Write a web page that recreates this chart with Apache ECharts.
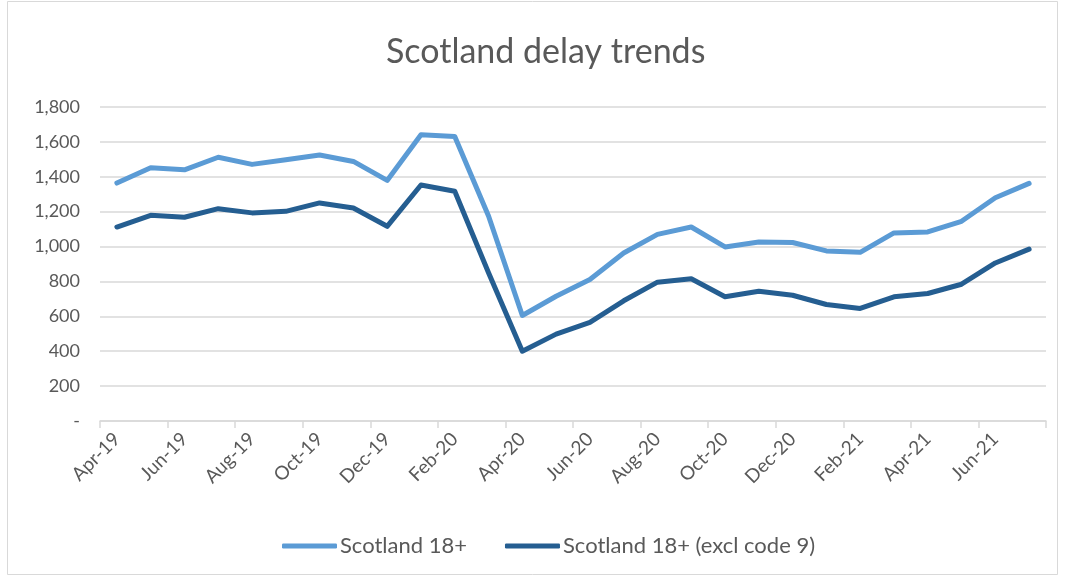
<!DOCTYPE html>
<html><head><meta charset="utf-8">
<script src="https://cdn.jsdelivr.net/npm/echarts@6/dist/echarts.min.js"></script>
<style>html,body{margin:0;padding:0;background:#fff}#c{width:1065px;height:576px}</style>
</head><body><div id="c"></div>
<script>
const categories = ["Apr-19","May-19","Jun-19","Jul-19","Aug-19","Sep-19","Oct-19","Nov-19","Dec-19","Jan-20","Feb-20","Mar-20","Apr-20","May-20","Jun-20","Jul-20","Aug-20","Sep-20","Oct-20","Nov-20","Dec-20","Jan-21","Feb-21","Mar-21","Apr-21","May-21","Jun-21","Jul-21"];
const scotland18 = [1364,1452,1440,1512,1471,1498,1525,1488,1379,1641,1631,1175,605,715,811,963,1070,1112,998,1026,1023,975,967,1078,1084,1145,1280,1362];
const scotland18excl9 = [1112,1179,1168,1217,1193,1202,1250,1221,1116,1353,1317,850,400,498,565,689,796,815,712,744,721,668,645,712,731,784,906,985];
const seriesNames = ["Scotland 18+","Scotland 18+ (excl code 9)"];
const titleText = "Scotland delay trends";

const font = "Lato, 'Open Sans', sans-serif";
const chart = echarts.init(document.getElementById('c'));
chart.setOption({
  backgroundColor: '#fff',
  animation: false,
  title: { text: titleText, left: 381, top: 30,
    textStyle: { fontFamily: font, fontSize: 34, fontWeight: 'normal', color: '#595959' } },
  graphic: [{ type: 'rect', shape: { x: 7.5, y: 1.5, width: 1050, height: 573 },
    style: { fill: 'none', stroke: '#d9d9d9', lineWidth: 1 } }],
  legend: { bottom: 14, left: 277, itemWidth: 55, itemHeight: 5, itemGap: 38,
    icon: 'roundRect',
    textStyle: { fontFamily: font, fontSize: 22, color: '#595959', padding: [0, 0, 0, -2] },
    data: seriesNames },
  grid: { left: 100, right: 19, top: 107, bottom: 155 },
  xAxis: { type: 'category', data: categories, boundaryGap: true,
    axisLine: { lineStyle: { color: '#d9d9d9', width: 1.5 } },
    axisTick: { show: true, interval: 1, length: 7, lineStyle: { color: '#d9d9d9', width: 1.5 } },
    axisLabel: { interval: 1, rotate: 45, margin: 15, fontFamily: font, fontSize: 19, color: '#595959' } },
  yAxis: { type: 'value', min: 0, max: 1800, interval: 200,
    axisLine: { show: false }, axisTick: { show: false },
    splitLine: { lineStyle: { color: '#d9d9d9', width: 1.5 } },
    axisLabel: { margin: 20, fontFamily: font, fontSize: 18, color: '#595959',
      formatter: v => v === 0 ? '-' : v.toLocaleString('en-US') } },
  series: [
    { name: seriesNames[0], type: 'line', data: scotland18, showSymbol: false,
      lineStyle: { width: 5, color: '#5B9BD5', cap: 'round', join: 'round' }, itemStyle: { color: '#5B9BD5' } },
    { name: seriesNames[1], type: 'line', data: scotland18excl9, showSymbol: false,
      lineStyle: { width: 5, color: '#255E91', cap: 'round', join: 'round' }, itemStyle: { color: '#255E91' } }
  ]
});
</script></body></html>
